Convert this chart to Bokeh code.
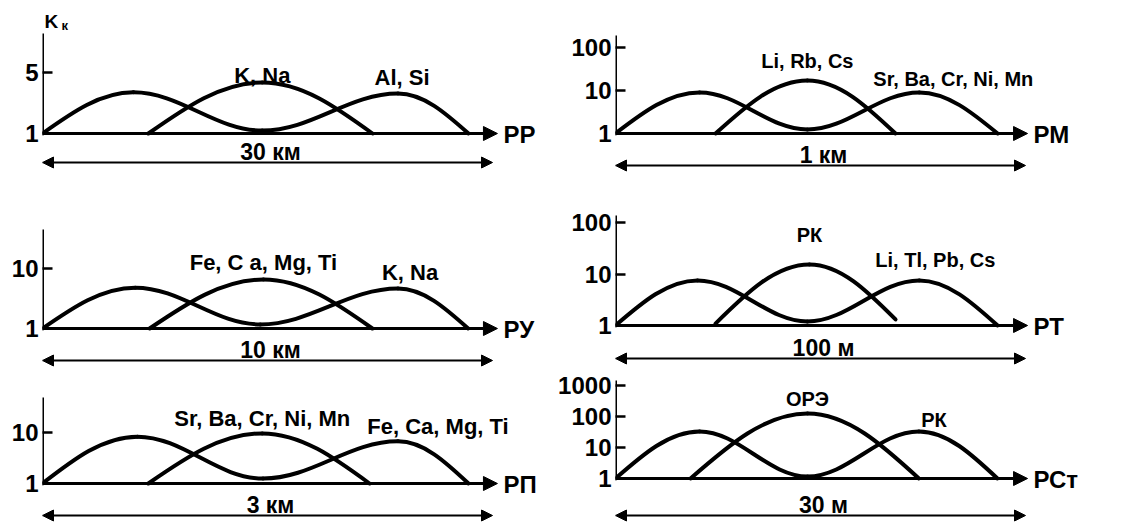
import math
from bokeh.plotting import figure
from bokeh.layouts import column, row
from bokeh.models import Arrow, NormalHead, Label, FixedTicker, NumeralTickFormatter, Range1d
from bokeh.embed import file_html
from bokeh.resources import INLINE

FONT = "Liberation Sans"

# ---------------- data ----------------
zone_names = ["РР", "РМ", "РУ", "РТ", "РП", "РСт"]
distance_labels = ["30 км", "1 км", "10 км", "100 м", "3 км", "30 м"]
profile_lengths = [30, 1, 10, 100, 3, 30]
kk_ticks = [[1, 5], [1, 10, 100], [1, 10], [1, 10, 100], [1, 10], [1, 10, 100, 1000]]

# two-humped curve, key points: start, 1st peak, trough, 2nd peak, end
wave_x = [
    [0, 6.06, 14.65, 23.7, 28.4],
    [0, 0.205, 0.468, 0.741, 0.932],
    [0, 2.06, 4.84, 7.90, 9.46],
    [0, 20.0, 46.8, 74.1, 93.2],
    [0, 0.632, 1.47, 2.37, 2.84],
    [0, 6.15, 14.05, 22.2, 27.95],
]
wave_y = [
    [1, 2.96, 1.08, 2.87, 1],
    [1, 9.0, 1.24, 9.0, 1],
    [1, 4.8, 1.17, 4.64, 1],
    [1, 7.5, 1.2, 7.5, 1],
    [1, 8.3, 1.25, 6.7, 1],
    [1, 32.8, 1.16, 32.8, 1],
]
# central single-humped curve, key points: start, peak, end
hump_x = [
    [7.06, 14.65, 22.0],
    [0.244, 0.468, 0.683],
    [2.38, 4.91, 7.33],
    [24.4, 47.3, 68.3],
    [0.706, 1.465, 2.18],
    [5.49, 14.05, 22.2],
]
hump_y = [
    [1, 3.84, 1],
    [1, 17.1, 1],
    [1, 6.56, 1],
    [1.09, 15.3, 1.31],
    [1, 9.6, 1],
    [1, 125, 1],
]
hump_labels = ["K, Na", "Li, Rb, Cs", "Fe, C a, Mg, Ti", "РК", "Sr, Ba, Cr, Ni, Mn", "ОРЭ"]
wave_labels = ["Al, Si", "Sr, Ba, Cr, Ni, Mn", "K, Na", "Li, Tl, Pb, Cs", "Fe, Ca, Mg, Ti", "РК"]
y_title = "K"
y_title_sub = "к"

# ---------------- layout (sizes / offsets in pixels only) ----------------
LEFT = dict(w=553, l=42, px=450.0, tip=1.011)
RIGHT = dict(w=577, l=62, px=410.0, tip=1.005)
LAYOUT = [
    dict(col=LEFT, h=178, base=133, top=33, dec=87.3, arr=29, hdy=7, wdx=4, wdy=16, fs=22),
    dict(col=RIGHT, h=178, base=133, top=35, dec=43.0, arr=32, hdy=19, wdx=34, wdy=13, fs=20),
    dict(col=LEFT, h=190, base=150, top=51, dec=60.0, arr=32, hdy=17, wdx=12, wdy=16, fs=22),
    dict(col=RIGHT, h=190, base=147, top=37, dec=51.5, arr=33, hdy=29, wdx=16, wdy=20, fs=20),
    dict(col=LEFT, h=154, base=115, top=29, dec=51.0, arr=32, hdy=15, wdx=40, wdy=15, fs=22),
    dict(col=RIGHT, h=154, base=110, top=12, dec=31.0, arr=37, hdy=14, wdx=15, wdy=12, fs=20),
]


def bezier_segments(xs, ys, kinds):
    """Smooth arch segments between key points (control points in log-space of y)."""
    out = dict(x0=[], y0=[], x1=[], y1=[], cx0=[], cy0=[], cx1=[], cy1=[])
    for i in range(len(xs) - 1):
        xa, xb = xs[i], xs[i + 1]
        la, lb = math.log10(ys[i]), math.log10(ys[i + 1])
        dx, dl = xb - xa, lb - la
        ka, kb = kinds[i], kinds[i + 1]
        if ka == "end":        # rising from an end to an extremum
            c0 = (xa + 0.326 * dx, la + 0.512 * dl)
            c1 = (xa + 0.6386 * dx, lb)
        elif kb == "end":      # falling from an extremum to an end
            c0 = (xa + 0.3614 * dx, la)
            c1 = (xa + 0.674 * dx, la + 0.488 * dl)
        else:                  # extremum to extremum
            c0 = (xa + 0.3642 * dx, la)
            c1 = (xa + 0.6358 * dx, lb)
        out["x0"].append(xa); out["y0"].append(ys[i])
        out["x1"].append(xb); out["y1"].append(ys[i + 1])
        out["cx0"].append(c0[0]); out["cy0"].append(10 ** c0[1])
        out["cx1"].append(c1[0]); out["cy1"].append(10 ** c1[1])
    return out


def text_label(x, y, text, size, dx=0, dy=0, align="center", baseline="alphabetic"):
    return Label(x=x, y=y, x_offset=dx, y_offset=dy, text=text,
                 text_font=FONT, text_font_size=f"{size}px", text_font_style="bold",
                 text_color="black", text_align=align, text_baseline=baseline)


def head(size):
    return NormalHead(size=size, fill_color="black", line_color="black", line_width=1)


figs = []
for i in range(6):
    lay = LAYOUT[i]
    col = lay["col"]
    L = profile_lengths[i]
    frame_w = col["w"] - col["l"]
    x_end = frame_w / col["px"] * L
    y_start = 10 ** (-(lay["h"] - lay["base"]) / lay["dec"])
    y_end = 10 ** (lay["base"] / lay["dec"])
    axis_top = 10 ** ((lay["base"] - lay["top"]) / lay["dec"])
    tip = col["tip"] * L

    p = figure(width=col["w"], height=lay["h"], y_axis_type="log",
               x_range=Range1d(0, x_end), y_range=Range1d(y_start, y_end),
               output_backend="svg", toolbar_location=None,
               min_border_left=col["l"], min_border_right=0,
               min_border_top=0, min_border_bottom=0)
    p.xaxis.visible = False
    p.grid.visible = False
    p.outline_line_color = None
    p.background_fill_color = "white"
    p.border_fill_color = "white"

    ax = p.yaxis[0]
    ax.ticker = FixedTicker(ticks=kk_ticks[i])
    ax.formatter = NumeralTickFormatter(format="0")
    ax.major_tick_in = 10
    ax.major_tick_out = 0
    ax.minor_tick_line_color = None
    ax.axis_line_color = None
    ax.major_tick_line_width = 2.5
    ax.major_tick_line_color = "black"
    ax.major_label_standoff = 4
    ax.major_label_text_font = FONT
    ax.major_label_text_font_size = "24px"
    ax.major_label_text_font_style = "bold"
    ax.major_label_text_color = "black"

    # vertical axis line (from Kk = 1 up)
    p.segment(x0=[0], y0=[1], x1=[0], y1=[axis_top], line_color="black", line_width=3)

    # curves
    wave = bezier_segments(wave_x[i], wave_y[i], ["end", "ext", "ext", "ext", "end"])
    hump = bezier_segments(hump_x[i], hump_y[i], ["end", "ext", "end"])
    for seg in (wave, hump):
        p.bezier(source=seg, x0="x0", y0="y0", x1="x1", y1="y1",
                 cx0="cx0", cy0="cy0", cx1="cx1", cy1="cy1",
                 line_color="black", line_width=4, line_cap="round")

    # horizontal axis arrow + zone name
    p.add_layout(Arrow(x_start=0, y_start=1, x_end=tip, y_end=1, line_width=3,
                       line_color="black", end=head(14)))
    p.add_layout(text_label(tip, 1, zone_names[i], 24, dx=6, dy=-1, align="left", baseline="middle"))

    # distance double arrow + label
    y_arr = 10 ** (-lay["arr"] / lay["dec"])
    p.add_layout(Arrow(x_start=0, y_start=y_arr, x_end=L, y_end=y_arr, line_width=2,
                       line_color="black", start=head(11), end=head(11)))
    p.add_layout(text_label(L / 2, 1, distance_labels[i], 23, dx=3, dy=-(lay["arr"] - 11)))

    # curve labels
    p.add_layout(text_label(hump_x[i][1], hump_y[i][1], hump_labels[i], lay["fs"], dy=lay["hdy"]))
    p.add_layout(text_label(wave_x[i][3], wave_y[i][3], wave_labels[i], lay["fs"],
                            dx=lay["wdx"], dy=lay["wdy"]))

    if i == 0:
        p.add_layout(text_label(0, axis_top, y_title, 19, dx=2, dy=12, align="left"))
        p.add_layout(text_label(0, axis_top, y_title_sub, 13, dx=19, dy=8, align="left"))
    figs.append(p)

layout = column(row(figs[0], figs[1]), row(figs[2], figs[3]), row(figs[4], figs[5]))
open("out.html", "w").write(file_html(layout, INLINE))
